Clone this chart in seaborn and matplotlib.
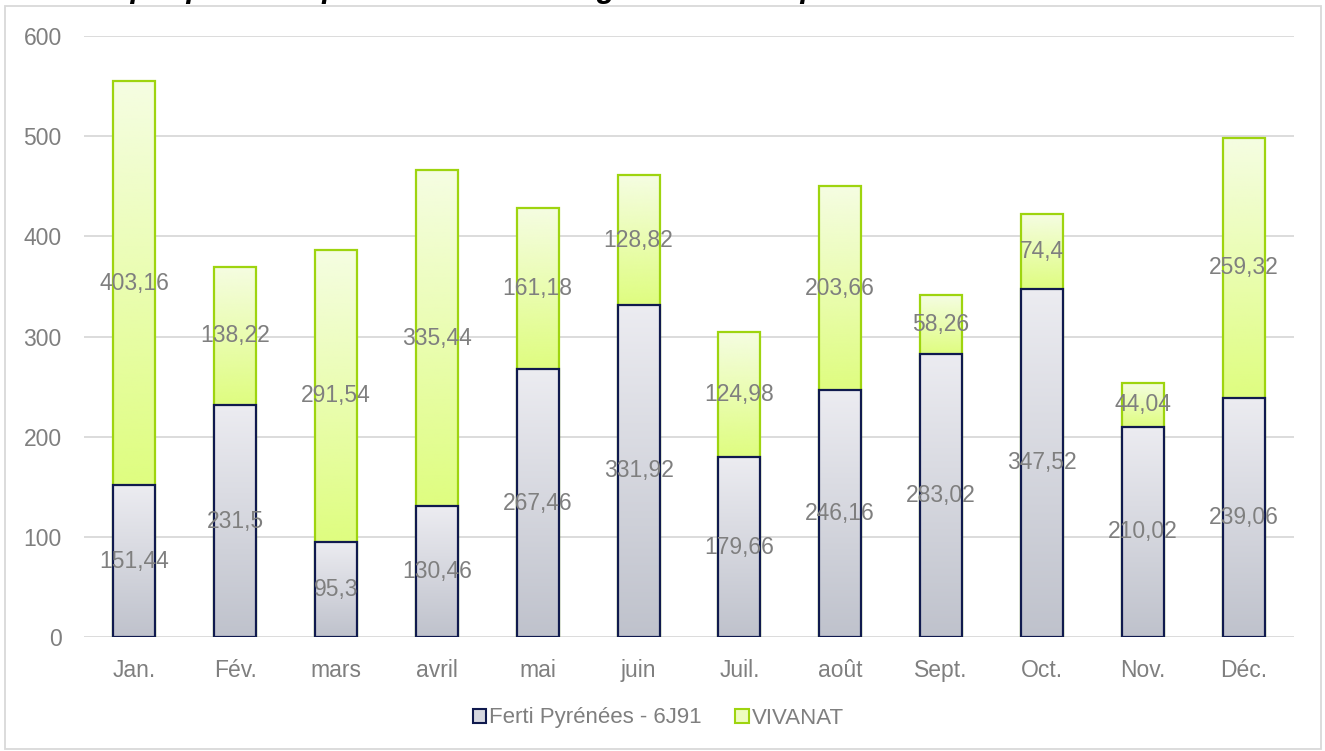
import numpy as np
import pandas as pd
import matplotlib
matplotlib.use('Agg')
import matplotlib.pyplot as plt
import seaborn as sns
from matplotlib.patches import Patch, Rectangle
from matplotlib.colors import LinearSegmentedColormap

mois = ['Jan.', 'Fév.', 'mars', 'avril', 'mai', 'juin', 'Juil.', 'août', 'Sept.', 'Oct.', 'Nov.', 'Déc.']
ferti = [151.44, 231.5, 95.3, 130.46, 267.46, 331.92, 179.66, 246.16, 283.02, 347.52, 210.02, 239.06]
vivanat = [403.16, 138.22, 291.54, 335.44, 161.18, 128.82, 124.98, 203.66, 58.26, 74.4, 44.04, 259.32]
series = ['Ferti Pyrénées - 6J91', 'VIVANAT']
titre = 'Graphique 4 : Répartition des tonnages de boues par sites de traitement en 2021'

df = pd.DataFrame({'mois': mois, 'ferti': ferti, 'vivanat': vivanat})
df['total'] = df['ferti'] + df['vivanat']

sns.set_style('white')
plt.rcParams['font.family'] = ['Liberation Sans', 'DejaVu Sans']

grey = '#7f7f7f'
green_edge = '#9ed40f'
navy_edge = '#101a4e'

fig = plt.figure(figsize=(13.25, 7.51), dpi=100)
ax = fig.add_axes([84 / 1325, 1 - 637 / 751, 1210 / 1325, 601 / 751])

w = 0.417
sns.barplot(data=df, x='mois', y='total', color='#e6fca0', width=w,
            edgecolor=green_edge, linewidth=1.6, ax=ax, zorder=3)
n_top = len(ax.patches)
sns.barplot(data=df, x='mois', y='ferti', color='#d6d8e0', width=w,
            edgecolor=navy_edge, linewidth=1.6, ax=ax, zorder=4)

# vertical gradients clipped to each bar
cm_green = LinearSegmentedColormap.from_list('g', ['#dffd80', '#f5fde2'])
cm_grey = LinearSegmentedColormap.from_list('s', ['#bfc2cc', '#ececf1'])
grad = np.linspace(0, 1, 256).reshape(-1, 1)
for i, p in enumerate(ax.patches):
    x0, y0 = p.get_x(), p.get_y()
    pw, ph = p.get_width(), p.get_height()
    if i < n_top:
        cmap, y0, ph, z = cm_green, ferti[i], vivanat[i], 3.5
    else:
        cmap, z = cm_grey, 4.5
    im = ax.imshow(grad, cmap=cmap, origin='lower', aspect='auto',
                   extent=[x0, x0 + pw, y0, y0 + ph], zorder=z, interpolation='bicubic')
    im.set_clip_path(Rectangle((x0, y0), pw, ph, transform=ax.transData))
    border = Rectangle((x0, p.get_y()), pw, p.get_height(), fill=False,
                       edgecolor=p.get_edgecolor(), linewidth=1.6, zorder=z + 0.2)
    ax.add_patch(border)
    p.set_facecolor('none')
    p.set_edgecolor('none')

ax.set_xlim(-0.5, len(mois) - 0.5)
ax.set_ylim(0, 600)

# data labels
for i in range(len(mois)):
    ax.text(i, ferti[i] / 2, f'{ferti[i]:g}'.replace('.', ','), ha='center', va='center',
            fontsize=16.5, color=grey, zorder=6)
    ax.text(i, ferti[i] + vivanat[i] / 2, f'{vivanat[i]:g}'.replace('.', ','), ha='center',
            va='center', fontsize=16.5, color=grey, zorder=6)

ax.set_yticks(range(0, 601, 100))
ax.yaxis.grid(True, color='#d9d9d9', linewidth=1.3, zorder=0)
ax.set_axisbelow(True)
for s in ax.spines.values():
    s.set_visible(False)
ax.tick_params(axis='y', length=0, pad=16, labelsize=16.5, labelcolor=grey)
ax.tick_params(axis='x', length=0, pad=16, labelsize=16.5, labelcolor=grey)
ax.set_xlabel('')
ax.set_ylabel('')

handles = [Patch(facecolor='#d6d8e0', edgecolor=navy_edge, linewidth=1.5, label=series[0]),
           Patch(facecolor='#eefcc0', edgecolor=green_edge, linewidth=1.5, label=series[1])]
fig.legend(handles=handles, loc='center', bbox_to_anchor=(0.497, 1 - 718 / 751), ncol=2,
           frameon=False, fontsize=16, handlelength=0.6, handleheight=0.6,
           handletextpad=0.15, columnspacing=1.5, labelcolor=grey)

# chart frame
fig.patches.append(Rectangle((5 / 1325, 1 - 749 / 751), 1316 / 1325, 743 / 751,
                             transform=fig.transFigure, fill=False,
                             edgecolor='#d9d9d9', linewidth=1.3))

# title, cut off by the top of the image as in the source
fig.text(0.5, 1 + 3 / 751, titre, ha='center', va='baseline', fontsize=22,
         fontweight='bold', fontstyle='italic', color='black')

fig.savefig('out.png', dpi=100)
